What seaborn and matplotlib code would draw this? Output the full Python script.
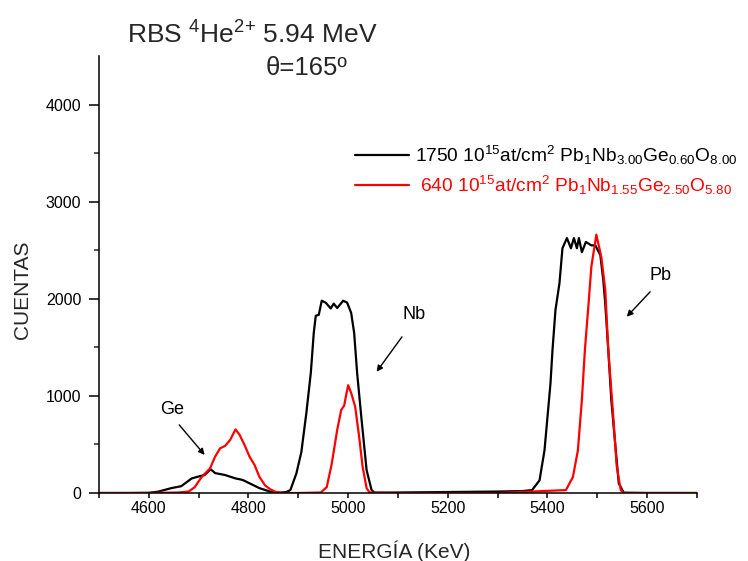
import numpy as np
import pandas as pd
import matplotlib
matplotlib.use("Agg")
import matplotlib.pyplot as plt
import seaborn as sns

# ---- data ----
energy_1750 = [4500, 4560, 4600, 4618, 4645, 4665, 4686, 4700, 4712, 4724, 4733, 4753, 4774, 4788,
               4802, 4822, 4843, 4863, 4876, 4884, 4896, 4906, 4916, 4925, 4931, 4935, 4941, 4947,
               4955, 4965, 4971, 4978, 4990, 4998, 5006, 5012, 5018, 5027, 5037, 5047, 5053, 5100,
               5200, 5300, 5350, 5369, 5384, 5394, 5400, 5406, 5410, 5416, 5424, 5430, 5439, 5447,
               5453, 5459, 5463, 5469, 5477, 5488, 5496, 5506, 5512, 5516, 5522, 5528, 5537, 5543,
               5553, 5600, 5700]
counts_1750 = [0, 0, 2, 13, 50, 70, 150, 170, 185, 245, 205, 185, 150, 135,
               100, 50, 15, 3, 10, 30, 200, 420, 820, 1235, 1650, 1825, 1835, 1980,
               1960, 1900, 1950, 1905, 1980, 1960, 1855, 1650, 1235, 750, 235, 30, 3, 5,
               10, 15, 20, 30, 130, 440, 785, 1130, 1470, 1885, 2160, 2520, 2625, 2520,
               2625, 2520, 2625, 2480, 2585, 2550, 2550, 2450, 2190, 1940, 1470, 960, 440, 100,
               3, 0, 0]

energy_640 = [4500, 4600, 4659, 4680, 4692, 4706, 4723, 4733, 4743, 4753, 4763, 4774, 4782, 4792,
              4802, 4812, 4822, 4833, 4843, 4855, 4869, 4900, 4945, 4957, 4967, 4978, 4986, 4992,
              4996, 5000, 5006, 5014, 5022, 5029, 5037, 5043, 5100, 5300, 5437, 5451, 5461, 5469,
              5475, 5483, 5488, 5498, 5508, 5516, 5522, 5532, 5539, 5547, 5553, 5600, 5700]
counts_640 = [0, 0, 5, 15, 60, 165, 255, 375, 460, 485, 545, 655, 600, 495,
              375, 290, 165, 80, 40, 10, 0, 0, 5, 60, 300, 650, 855, 900,
              1010, 1110, 1030, 890, 580, 270, 50, 5, 0, 0, 30, 165, 440, 960,
              1470, 1990, 2330, 2660, 2430, 2090, 1470, 785, 270, 30, 0, 0, 0]

label_1750 = r"1750 10$^{15}$at/cm$^{2}$ Pb$_{1}$Nb$_{3.00}$Ge$_{0.60}$O$_{8.00}$"
label_640 = r" 640 10$^{15}$at/cm$^{2}$ Pb$_{1}$Nb$_{1.55}$Ge$_{2.50}$O$_{5.80}$"

x_major_ticks = [4600, 4800, 5000, 5200, 5400, 5600]
y_major_ticks = [0, 1000, 2000, 3000, 4000]

# ---- style ----
sns.set_style("ticks")
plt.rcParams["font.family"] = ["Liberation Sans", "DejaVu Sans"]
plt.rcParams["mathtext.fontset"] = "custom"
plt.rcParams["mathtext.rm"] = "Liberation Sans"
plt.rcParams["mathtext.it"] = "Liberation Sans:italic"
plt.rcParams["mathtext.bf"] = "Liberation Sans:bold"

fig = plt.figure(figsize=(7.48, 5.61), dpi=100)
ax = fig.add_axes([99 / 748, 1 - 493 / 561, (697 - 99) / 748, (493 - 56) / 561])

df1 = pd.DataFrame({"E": energy_1750, "C": counts_1750})
df2 = pd.DataFrame({"E": energy_640, "C": counts_640})
sns.lineplot(data=df1, x="E", y="C", ax=ax, color="black", lw=1.6, label=label_1750,
             sort=False, estimator=None)
sns.lineplot(data=df2, x="E", y="C", ax=ax, color="#ff0000", lw=1.6, label=label_640,
             sort=False, estimator=None)

ax.set_xlim(4500, 5700)
ax.set_ylim(0, 4500)
ax.set_xticks(x_major_ticks)
ax.set_xticks(np.arange(4500, 5701, 100), minor=True)
ax.set_yticks(y_major_ticks)
ax.set_yticks(np.arange(500, 4500, 1000), minor=True)
ax.tick_params(axis="x", which="both", direction="out", length=3.6, width=1.1,
               labelsize=11.5, colors="black", pad=2)
ax.tick_params(axis="y", which="major", direction="out", length=7.2, width=1.1,
               labelsize=11.5, colors="black", pad=5.5)
ax.tick_params(axis="y", which="minor", direction="out", length=3.6, width=1.1)
for s in ["top", "right"]:
    ax.spines[s].set_visible(False)
for s in ["left", "bottom"]:
    ax.spines[s].set_linewidth(1.1)
    ax.spines[s].set_color("black")

ax.set_xlabel("ENERGÍA (KeV)", fontsize=15)
ax.set_ylabel("CUENTAS", fontsize=15)
ax.xaxis.set_label_coords((394 - 99) / 598, (493 - 540) / 437)
ax.yaxis.set_label_coords((32 - 99) / 598, (493 - 290) / 437)

leg = ax.legend(loc="upper left", bbox_to_anchor=(355 / 748, 1 - 144 / 561),
                bbox_transform=fig.transFigure, frameon=False, fontsize=13.8,
                handlelength=2.8, handletextpad=0.35, borderpad=0, borderaxespad=0,
                labelspacing=0.33)
for t, c in zip(leg.get_texts(), ["black", "#ff0000"]):
    t.set_color(c)

# annotations
ann = dict(fontsize=13, color="black")
arrow = dict(arrowstyle="-|>", color="black", lw=1.0, mutation_scale=9,
             shrinkA=0, shrinkB=0)
ax.text(4647, 856, "Ge", ha="center", va="center", **ann)
ax.annotate("", xy=(4712, 392), xytext=(4661, 701), arrowprops=arrow)
ax.text(5133, 1835, "Nb", ha="center", va="center", **ann)
ax.annotate("", xy=(5057, 1248), xytext=(5108, 1608), arrowprops=arrow)
ax.text(5626, 2237, "Pb", ha="center", va="center", **ann)
ax.annotate("", xy=(5559, 1815), xytext=(5606, 2072), arrowprops=arrow)

fig.text(127 / 748, 1 - 35 / 561, r"RBS $^{4}$He$^{2{+}}$ 5.94 MeV", fontsize=19,
         ha="left", va="center")
fig.text(307 / 748, 1 - 68 / 561, "θ=165º", fontsize=18.5, ha="center", va="center")

fig.savefig("out.png", dpi=100)
